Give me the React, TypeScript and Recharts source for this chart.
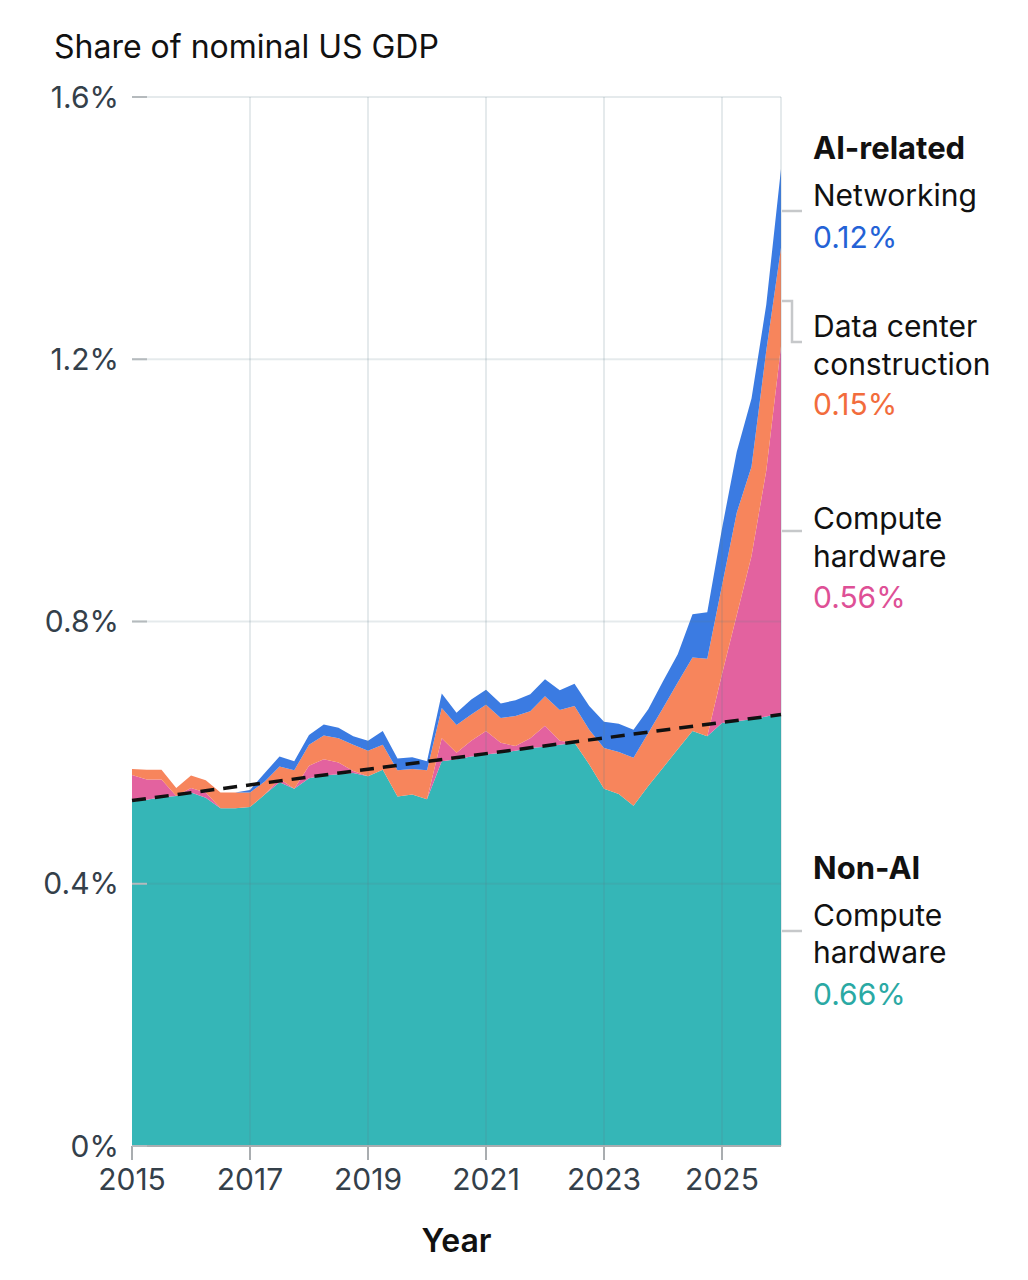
import { Area, AreaChart, ReferenceLine, XAxis, YAxis } from "recharts";

// quarterly, 2015 Q1 .. 2026 Q1
const years = [
  2015, 2015.25, 2015.5, 2015.75, 2016, 2016.25, 2016.5, 2016.75,
  2017, 2017.25, 2017.5, 2017.75, 2018, 2018.25, 2018.5, 2018.75,
  2019, 2019.25, 2019.5, 2019.75, 2020, 2020.25, 2020.5, 2020.75,
  2021, 2021.25, 2021.5, 2021.75, 2022, 2022.25, 2022.5, 2022.75,
  2023, 2023.25, 2023.5, 2023.75, 2024, 2024.25, 2024.5, 2024.75,
  2025, 2025.25, 2025.5, 2025.75, 2026,
];

// share of nominal US GDP, %
const nonAiCompute = [
  0.525, 0.528, 0.532, 0.534, 0.539, 0.531, 0.515, 0.515,
  0.517, 0.536, 0.555, 0.545, 0.561, 0.565, 0.567, 0.569,
  0.564, 0.574, 0.533, 0.536, 0.529, 0.587, 0.59, 0.594,
  0.597, 0.6, 0.603, 0.607, 0.609, 0.612, 0.615, 0.582,
  0.545, 0.537, 0.519, 0.549, 0.577, 0.605, 0.633, 0.625,
  0.645, 0.648, 0.651, 0.655, 0.66,
];
const aiCompute = [
  0.041, 0.031, 0.027, 0, 0.007, 0.008, 0, 0,
  0, 0, 0.005, 0, 0.019, 0.025, 0.018, 0.003,
  0, 0, 0, 0, 0, 0.035, 0.01, 0.024,
  0.036, 0.015, 0.007, 0.015, 0.032, 0.006, 0, 0,
  0, 0, 0, 0, 0, 0, 0, 0,
  0.075, 0.162, 0.249, 0.375, 0.56,
];
const dataCenter = [
  0.009, 0.015, 0.015, 0.012, 0.019, 0.019, 0.024, 0.024,
  0.022, 0.02, 0.019, 0.028, 0.032, 0.036, 0.037, 0.04,
  0.039, 0.038, 0.04, 0.039, 0.044, 0.046, 0.042, 0.04,
  0.04, 0.038, 0.046, 0.041, 0.045, 0.047, 0.056, 0.053,
  0.062, 0.064, 0.073, 0.081, 0.091, 0.102, 0.112, 0.118,
  0.135, 0.156, 0.136, 0.183, 0.15,
];
const networking = [
  0, 0, 0, 0, 0, 0, 0, 0,
  0.004, 0.013, 0.015, 0.014, 0.015, 0.017, 0.016, 0.013,
  0.015, 0.021, 0.018, 0.018, 0.014, 0.022, 0.019, 0.023,
  0.023, 0.022, 0.024, 0.026, 0.026, 0.03, 0.034, 0.036,
  0.04, 0.043, 0.043, 0.036, 0.041, 0.043, 0.066, 0.071,
  0.087, 0.093, 0.104, 0.07, 0.12,
];

// pre-AI trend of non-AI compute hardware (dashed)
const trendYears = [2015, 2026];
const trendValues = [0.527, 0.658];

const xTicks = [2015, 2017, 2019, 2021, 2023, 2025];
const yTicks = [0, 0.4, 0.8, 1.2, 1.6];
const vGrid = [2017, 2019, 2021, 2023, 2025, 2026];
const hGrid = [0.4, 0.8, 1.2, 1.6];

const data = years.map((year, i) => ({
  year,
  nonAi: nonAiCompute[i],
  aiCompute: aiCompute[i],
  dataCenter: dataCenter[i],
  networking: networking[i],
}));

const TEAL = "#35b6b7";
const PINK = "#e3629f";
const ORANGE = "#f7855c";
const BLUE = "#3b7be2";
const FONT = "Inter, 'Noto Sans', sans-serif";
const TICK_GRAY = "#b5babd";
const TICK_TEXT = "#34404a";

function YTick({ x, y, payload }: any) {
  return (
    <g>
      <text
        x={x}
        y={y}
        dy="0.355em"
        textAnchor="end"
        fontSize={30}
        fontFamily={FONT}
        fill={TICK_TEXT}
      >
        {`${payload.value}%`}
      </text>
      <line x1={x + 13} x2={x + 28} y1={y} y2={y} stroke={TICK_GRAY} strokeWidth={2} />
    </g>
  );
}

function Annotations() {
  const label = { fontFamily: FONT, fontSize: 30, fill: "#111" } as const;
  const bold = { ...label, fontSize: 31, fontWeight: 700 } as const;
  const lead = { stroke: "#c6c8ca", strokeWidth: 2.5, fill: "none" } as const;
  return (
    <svg
      width={1028}
      height={1280}
      style={{ position: "absolute", left: 0, top: 0, pointerEvents: "none" }}
    >
      <text x={54} y={58} fontFamily={FONT} fontSize={32} fill="#111">
        Share of nominal US GDP
      </text>

      <text x={813} y={159} {...bold}>AI-related</text>
      <text x={813} y={206} {...label}>Networking</text>
      <text x={813} y={248} {...label} fill="#2462d6">0.12%</text>
      <path d="M782 211 H802" {...lead} />

      <text x={813} y={337} {...label}>Data center</text>
      <text x={813} y={375} {...label}>construction</text>
      <text x={813} y={415} {...label} fill="#f26c3c">0.15%</text>
      <path d="M782 301 H792 V342 H802" {...lead} />

      <text x={813} y={529} {...label}>Compute</text>
      <text x={813} y={567} {...label}>hardware</text>
      <text x={813} y={608} {...label} fill="#de5096">0.56%</text>
      <path d="M782 531 H802" {...lead} />

      <text x={813} y={879} {...bold}>Non-AI</text>
      <text x={813} y={926} {...label}>Compute</text>
      <text x={813} y={963} {...label}>hardware</text>
      <text x={813} y={1005} {...label} fill="#2aa9a4">0.66%</text>
      <path d="M782 931 H802" {...lead} />
    </svg>
  );
}

export default function App() {
  return (
    <div style={{ position: "absolute", left: 0, top: 0, width: 1028, height: 1280, background: "#fff" }}>
      <AreaChart
        width={1028}
        height={1280}
        data={data}
        margin={{ top: 97, right: 247, bottom: 24, left: 0 }}
      >
        <Area type="linear" dataKey="nonAi" stackId="1" stroke="none" fill={TEAL} fillOpacity={1} isAnimationActive={false} />
        <Area type="linear" dataKey="aiCompute" stackId="1" stroke="none" fill={PINK} fillOpacity={1} isAnimationActive={false} />
        <Area type="linear" dataKey="dataCenter" stackId="1" stroke="none" fill={ORANGE} fillOpacity={1} isAnimationActive={false} />
        <Area type="linear" dataKey="networking" stackId="1" stroke="none" fill={BLUE} fillOpacity={1} isAnimationActive={false} />

        {vGrid.map((v) => (
          <ReferenceLine key={`v${v}`} x={v} stroke="#5f7f86" strokeOpacity={0.16} strokeWidth={2} />
        ))}
        {hGrid.map((v) => (
          <ReferenceLine key={`h${v}`} y={v} stroke="#5f7f86" strokeOpacity={0.16} strokeWidth={2} />
        ))}

        <ReferenceLine
          segment={[
            { x: trendYears[0], y: trendValues[0] },
            { x: trendYears[1], y: trendValues[1] },
          ]}
          stroke="#111"
          strokeWidth={3.5}
          strokeDasharray="14 9"
        />

        <XAxis
          dataKey="year"
          type="number"
          domain={[2015, 2026]}
          ticks={xTicks}
          height={110}
          tickSize={14}
          tickMargin={9}
          stroke="#a9adb0"
          axisLine={{ stroke: "#a9adb0", strokeWidth: 2 }}
          tickLine={{ stroke: "#a9adb0", strokeWidth: 2 }}
          tick={{ fontSize: 30, fontFamily: FONT, fill: TICK_TEXT }}
          label={{
            value: "Year",
            position: "insideBottom",
            offset: 4,
            fontSize: 32,
            fontFamily: FONT,
            fontWeight: 600,
            fill: "#111",
          }}
        />
        <YAxis
          type="number"
          domain={[0, 1.6]}
          ticks={yTicks}
          width={132}
          axisLine={false}
          tickLine={false}
          tickSize={0}
          tickMargin={13}
          tick={<YTick />}
        />
      </AreaChart>
      <Annotations />
    </div>
  );
}
